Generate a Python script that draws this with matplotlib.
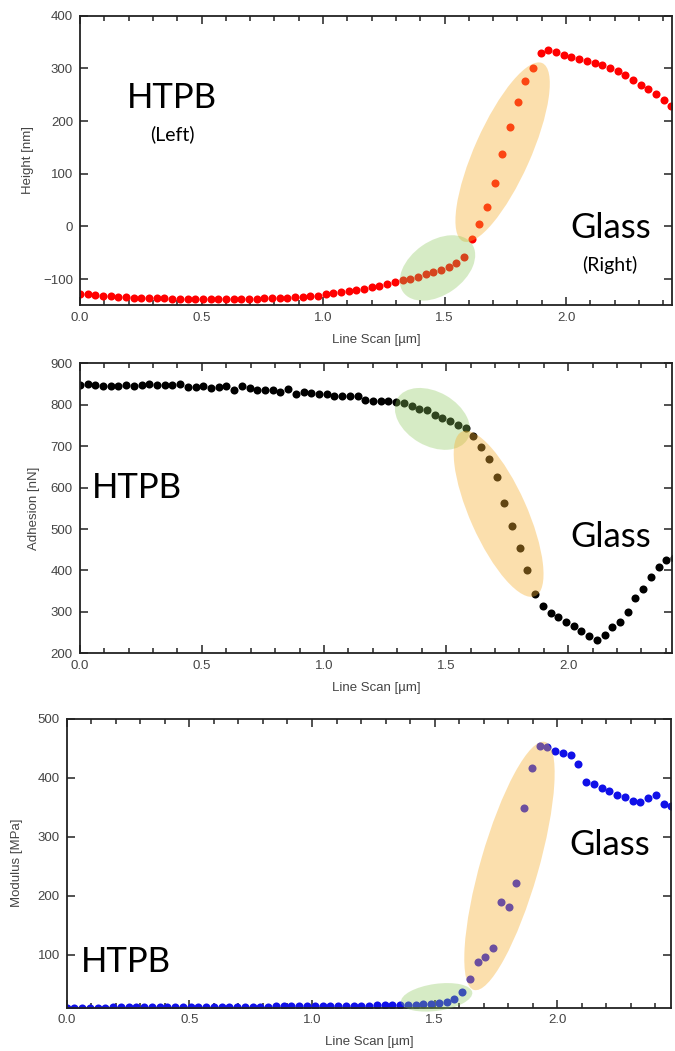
import numpy as np
import matplotlib
matplotlib.use("Agg")
import matplotlib.pyplot as plt
from matplotlib.patches import Ellipse
from matplotlib.transforms import ScaledTranslation
from matplotlib.ticker import MultipleLocator

# ---------------- data ----------------
scan_step_um = 0.0316  # spacing of line-scan samples

height_nm = [-128, -129, -130, -131.5, -132, -133, -134, -135, -135, -135.5,
             -136, -136.5, -137, -137, -138, -138, -138.5, -138.5, -138.5, -138.5,
             -138.5, -138.5, -138, -137, -136.5, -136, -135.5, -135, -134, -133.5,
             -132, -131, -129, -127, -125, -123, -120, -118, -115, -112,
             -109, -106, -102.5, -99, -95.5, -91, -87, -82, -76, -69,
             -58, -23, 5, 37, 82, 137, 189, 237, 276, 300,
             329, 334, 331, 326, 321, 317, 314, 311, 307, 301,
             295, 287, 278, 269, 260, 251, 240, 228, 217]

adhesion_nN = [848, 849, 847, 846, 846, 845, 848, 845, 847, 849,
               847, 847, 847, 850, 843, 843, 846, 840, 843, 844,
               836, 844, 841, 836, 836, 835, 831, 838, 827, 830,
               828, 826, 825, 822, 822, 820, 822, 812, 808, 808,
               810, 807, 804, 796, 790, 788, 776, 768, 760, 752,
               743, 724, 697, 669, 626, 564, 507, 454, 400, 344,
               315, 298, 288, 276, 265, 253, 241, 233, 244, 263,
               276, 300, 334, 356, 384, 409, 425, 429, 433]

modulus_MPa = [11, 11, 11, 11, 11, 11, 11.5, 11.5, 11.5, 11.5,
               11.5, 11.5, 11.5, 12, 12, 12, 12, 12, 12, 12,
               12, 12.5, 12.5, 12.5, 12.5, 12.5, 12.5, 13, 13, 13,
               13, 13, 13, 13.5, 13.5, 13.5, 14, 14, 14, 14,
               14.5, 15, 15, 15.5, 16, 16, 16.5, 17, 18, 21,
               26, 38, 59, 88, 96, 112, 189, 181, 222, 349,
               417, 454, 452, 446, 442, 438, 423, 393, 389, 383,
               377, 370, 367, 361, 359, 366, 371, 356, 352]

x_um = np.arange(len(height_nm)) * scan_step_um

x_ticks = [0.0, 0.5, 1.0, 1.5, 2.0]
x_ticklabels = ["0.0", "0.5", "1.0", "1.5", "2.0"]

# ---------------- figure ----------------
W, H = 675, 1051
fig = plt.figure(figsize=(W / 100, H / 100), dpi=100)
plt.rcParams['font.family'] = ['Liberation Sans', 'DejaVu Sans']

def axes_px(left, top, right, bottom):
    return fig.add_axes([left / W, (H - bottom) / H, (right - left) / W, (bottom - top) / H])

ax1 = axes_px(80, 15.7, 672, 305)
ax2 = axes_px(79.8, 363.3, 672, 653.3)
ax3 = axes_px(66.7, 718.7, 671, 1007.5)

BIG = dict(family=['Lato', 'DejaVu Sans'], color='black')
ORANGE = '#F7B032'
GREEN = '#8CC85A'

def style(ax, xmax, ylim, ystep, ylabel, ylab_x):
    ax.set_xlim(0, xmax)
    ax.set_ylim(*ylim)
    ax.set_xticks(x_ticks)
    ax.set_xticklabels(x_ticklabels)
    ax.xaxis.set_minor_locator(MultipleLocator(0.1))
    ax.yaxis.set_major_locator(MultipleLocator(ystep))
    ax.tick_params(which='both', direction='in', top=True, right=True,
                   colors='#222222', labelcolor='#444444', labelsize=9.5, width=1.1)
    ax.tick_params(which='major', length=6, pad=5)
    ax.tick_params(which='minor', length=3.5)
    ax.tick_params(axis='y', which='minor', left=False, right=False)
    for s in ax.spines.values():
        s.set_linewidth(1.3)
        s.set_color('#222222')
    ax.set_xlabel("Line Scan [µm]", fontsize=9.5, color='#444444')
    ax.xaxis.set_label_coords(0.5, -0.10)
    ax.set_ylabel(ylabel, fontsize=9.5, color='#444444')
    ax.yaxis.set_label_coords(ylab_x, 0.5)

def ellipse(ax, xc, yc, w_px, h_px, angle, color, alpha):
    tr = fig.dpi_scale_trans + ScaledTranslation(xc, yc, ax.transData)
    e = Ellipse((0, 0), w_px / 100, h_px / 100, angle=angle, transform=tr,
                facecolor=color, edgecolor='none', alpha=alpha, zorder=3, clip_on=False)
    ax.add_patch(e)

ms = 5.8
# Panel 1: Height
ax1.plot(x_um, height_nm, 'o', color='#FF0000', ms=ms, mec='none', zorder=2)
style(ax1, 2.436, (-149, 400), 100, "Height [nm]", -0.078)
ellipse(ax1, 1.739, 141, 195, 56, 66, ORANGE, 0.4)
ellipse(ax1, 1.471, -78.7, 84, 54, 35, GREEN, 0.35)
ax1.text(0.156, 0.680, "HTPB", transform=ax1.transAxes, ha='center', va='baseline', fontsize=25, **BIG)
ax1.text(0.156, 0.591, "(Left)", transform=ax1.transAxes, ha='center', va='center', fontsize=14, **BIG)
ax1.text(0.897, 0.2306, "Glass", transform=ax1.transAxes, ha='center', va='baseline', fontsize=25, **BIG)
ax1.text(0.895, 0.138, "(Right)", transform=ax1.transAxes, ha='center', va='center', fontsize=14, **BIG)

# Panel 2: Adhesion
ax2.plot(x_um, adhesion_nN, 'o', color='#000000', ms=ms, mec='none', zorder=2)
style(ax2, 2.425, (200, 900), 100, "Adhesion [nN]", -0.068)
ellipse(ax2, 1.444, 765.8, 81, 54, -30, GREEN, 0.35)
ellipse(ax2, 1.715, 536.6, 180, 57, -66, ORANGE, 0.4)
ax2.text(0.096, 0.534, "HTPB", transform=ax2.transAxes, ha='center', va='baseline', fontsize=25, **BIG)
ax2.text(0.897, 0.368, "Glass", transform=ax2.transAxes, ha='center', va='baseline', fontsize=25, **BIG)

# Panel 3: Modulus
ax3.plot(x_um, modulus_MPa, 'o', color='#1010E8', ms=ms, mec='none', zorder=2)
style(ax3, 2.4635, (11, 500), 100, "Modulus [MPa]", -0.072)
ellipse(ax3, 1.805, 250.7, 258, 58, 74, ORANGE, 0.4)
ellipse(ax3, 1.508, 28.2, 72, 27, 8, GREEN, 0.35)
ax3.text(0.098, 0.124, "HTPB", transform=ax3.transAxes, ha='center', va='baseline', fontsize=25, **BIG)
ax3.text(0.899, 0.528, "Glass", transform=ax3.transAxes, ha='center', va='baseline', fontsize=25, **BIG)

fig.savefig("out.png", dpi=100)
